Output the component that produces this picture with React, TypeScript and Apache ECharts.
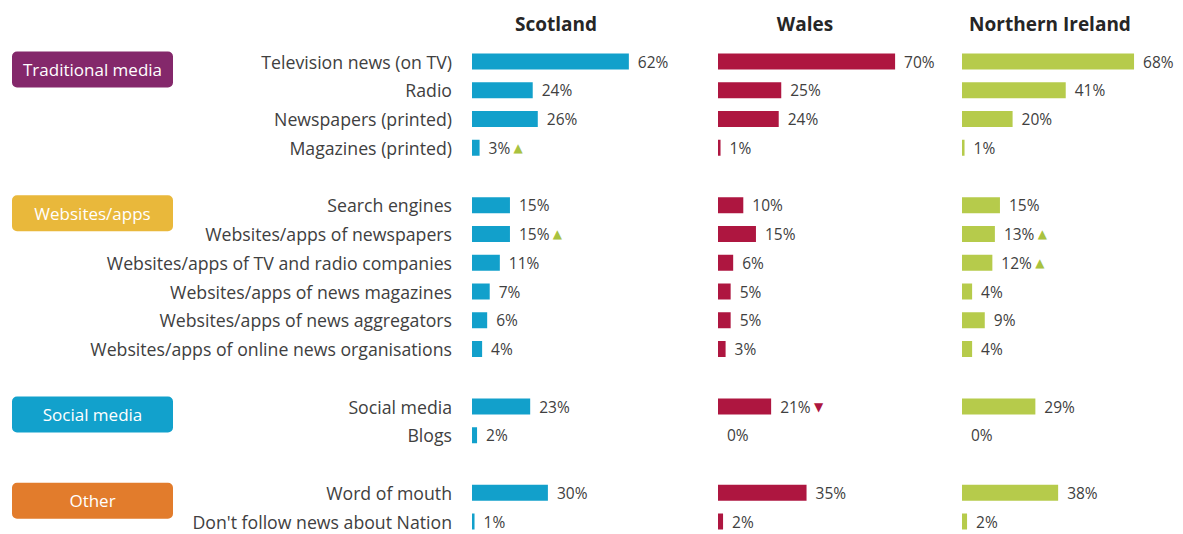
import React, { useEffect, useRef } from "react";
import * as echarts from "echarts";

const groupNames = ["Traditional media", "Websites/apps", "Social media", "Other"];
const groupColors = ["#84286b", "#e9b83b", "#12a1cc", "#e27c2c"];
const traditional = ["Television news (on TV)", "Radio", "Newspapers (printed)", "Magazines (printed)"];
const websites = [
  "Search engines",
  "Websites/apps of newspapers",
  "Websites/apps of TV and radio companies",
  "Websites/apps of news magazines",
  "Websites/apps of news aggregators",
  "Websites/apps of online news organisations",
];
const social = ["Social media", "Blogs"];
const other = ["Word of mouth", "Don't follow news about Nation"];
const nations = ["Scotland", "Wales", "Northern Ireland"];
const nationColors = ["#12a0cb", "#ae1640", "#b6cb4b"];
const scotland = [62, 24, 26, 3, 15, 15, 11, 7, 6, 4, 23, 2, 30, 1];
const wales = [70, 25, 24, 1, 10, 15, 6, 5, 5, 3, 21, 0, 35, 2];
const northernIreland = [68, 41, 20, 1, 15, 13, 12, 4, 9, 4, 29, 0, 38, 2];
const scotlandChange = ["", "", "", "up", "", "up", "", "", "", "", "", "", "", ""];
const walesChange = ["", "", "", "", "", "", "", "", "", "", "down", "", "", ""];
const niChange = ["", "", "", "", "", "up", "up", "", "", "", "", "", "", ""];

const FONT = "'Open Sans', 'Noto Sans', sans-serif";
const TEXT = "#404040";
const ROW0 = 61.5;
const ROWH = 28.75;
const GRID_LEFTS = [472, 718, 962];
const TITLE_CENTERS = [556, 805, 1050];
const XMAX = 80;
const GRID_W = 202.4;

export default function App() {
  const ref = useRef<HTMLDivElement>(null);
  useEffect(() => {
    document.body.style.margin = "0";
    if (!ref.current) return;
    const chart = echarts.init(ref.current, null, { renderer: "svg" });

    const groupItems = [traditional, websites, social, other];
    const cats: string[] = [];
    const rowItem: number[] = [];
    const groupFirstRow: number[] = [];
    let itemIdx = 0;
    groupItems.forEach((items, g) => {
      if (g > 0) {
        cats.push(" ".repeat(g));
        rowItem.push(-1);
      }
      groupFirstRow.push(cats.length);
      items.forEach((it) => {
        cats.push(it);
        rowItem.push(itemIdx++);
      });
    });
    const nRows = cats.length;
    const gridTop = ROW0 - ROWH / 2;
    const gridH = ROWH * nRows;

    const allValues = [scotland, wales, northernIreland];
    const allChanges = [scotlandChange, walesChange, niChange];

    const grids = GRID_LEFTS.map((l) => ({ left: l, top: gridTop, width: GRID_W, height: gridH }));
    const xAxes = GRID_LEFTS.map((_, i) => ({
      type: "value",
      gridIndex: i,
      min: 0,
      max: XMAX,
      show: false,
    }));
    const yAxes = GRID_LEFTS.map((_, i) => ({
      type: "category",
      gridIndex: i,
      data: cats,
      inverse: true,
      axisLine: { show: false },
      axisTick: { show: false },
      splitLine: { show: false },
      axisLabel: {
        show: i === 0,
        margin: 20,
        color: TEXT,
        fontFamily: FONT,
        fontSize: 17.7,
        lineHeight: 16,
      },
    }));
    const series = allValues.map((vals, n) => ({
      type: "bar",
      xAxisIndex: n,
      yAxisIndex: n,
      barWidth: 16,
      itemStyle: { color: nationColors[n] },
      data: rowItem.map((ri) => (ri < 0 ? "-" : vals[ri])),
      label: {
        show: true,
        position: "right",
        distance: 9,
        formatter: (p: any) => {
          const ri = rowItem[p.dataIndex];
          if (ri < 0) return "";
          const c = allChanges[n][ri];
          return `{v|${vals[ri]}%}` + (c === "up" ? " {up|▲}" : c === "down" ? " {down|▼}" : "");
        },
        rich: {
          v: { color: TEXT, fontFamily: FONT, fontSize: 15.5, lineHeight: 16 },
          up: { color: "#a9c23f", fontSize: 12, fontFamily: "DejaVu Sans", lineHeight: 16 },
          down: { color: "#ae1640", fontSize: 12, fontFamily: "DejaVu Sans", lineHeight: 16 },
        },
      },
    }));

    const graphics: any[] = [];
    nations.forEach((name, i) => {
      graphics.push({
        type: "text",
        x: TITLE_CENTERS[i],
        y: 24,
        style: {
          text: name,
          fill: "#262626",
          font: `bold 19px ${FONT}`,
          textAlign: "center",
          textVerticalAlign: "middle",
        },
      });
    });
    groupNames.forEach((g, i) => {
      const top = ROW0 + ROWH * groupFirstRow[i] - 10;
      graphics.push({
        type: "rect",
        shape: { x: 12, y: top, width: 161, height: 36, r: 5 },
        style: { fill: groupColors[i] },
      });
      graphics.push({
        type: "text",
        x: 92.5,
        y: top + 18,
        style: {
          text: g,
          fill: "#ffffff",
          font: `17px ${FONT}`,
          textAlign: "center",
          textVerticalAlign: "middle",
        },
      });
    });

    chart.setOption({
      animation: false,
      backgroundColor: "#ffffff",
      grid: grids,
      xAxis: xAxes,
      yAxis: yAxes,
      series,
      graphic: graphics,
    });
    return () => chart.dispose();
  }, []);
  return (
    <div style={{ width: 1183, height: 534, overflow: "hidden" }}>
      <div ref={ref} style={{ width: 1183, height: 560 }} />
    </div>
  );
}
